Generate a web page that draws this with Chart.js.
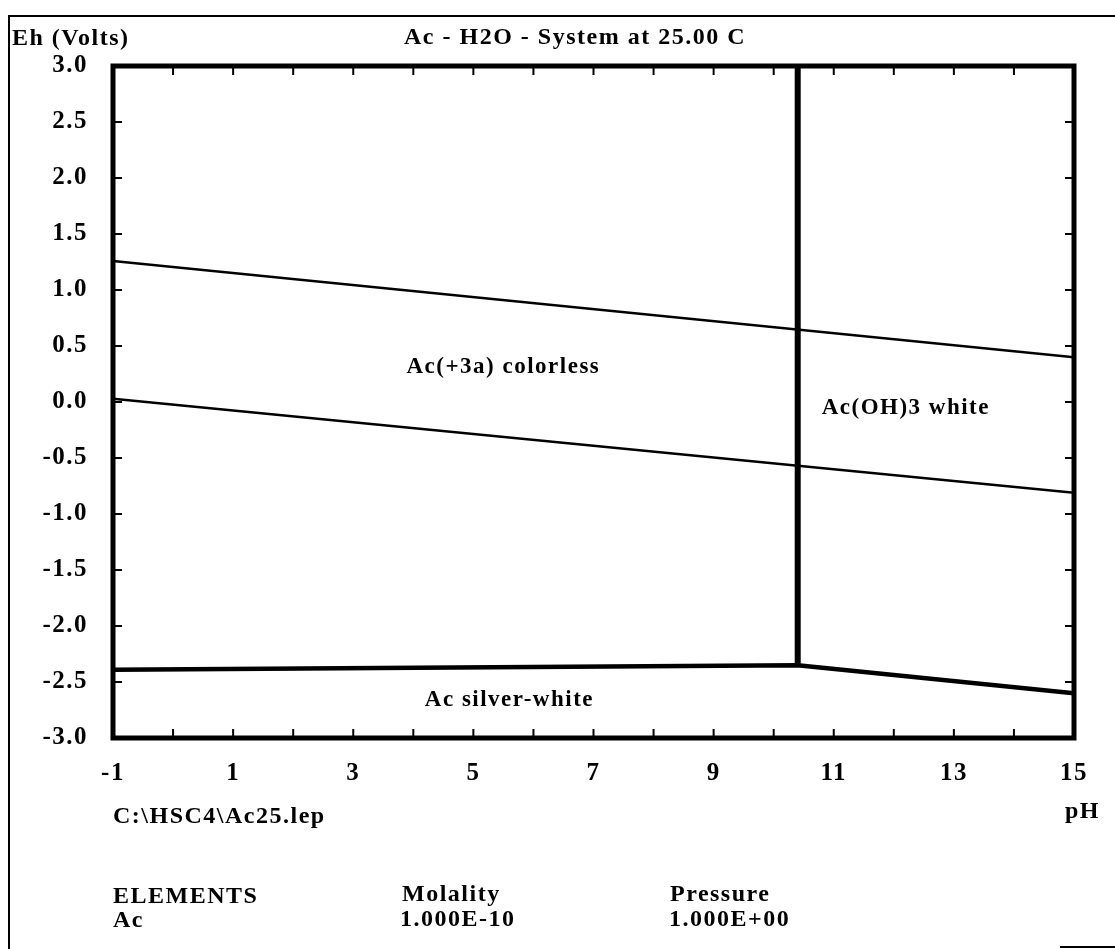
<!DOCTYPE html>
<html lang="en"><head>
<title>Ac - H2O Eh-pH</title>
<meta name="viewport" content="width=device-width, initial-scale=1.0">
<meta charset="utf-8">
<style type="text/css">
body    { margin:0; background-color:#ffffff; }
#display { position:relative; width:1115px; height:949px; }
</style>
<script src="https://cdn.jsdelivr.net/npm/chart.js"></script>
<script>

// axis labels
const pHTicks=[-1,1,3,5,7,9,11,13,15];
const ehTicks=[3.0,2.5,2.0,1.5,1.0,0.5,0.0,-0.5,-1.0,-1.5,-2.0,-2.5,-3.0];

// stability boundaries (pH, Eh in volts)
const upperWaterPH=[-1,15];      const upperWaterEh=[1.26,0.40];
const lowerWaterPH=[-1,15];      const lowerWaterEh=[0.03,-0.81];
const hydroxidePH=[10.4,10.4];   const hydroxideEh=[3.0,-2.35];
const metalPH=[-1,10.4,15];      const metalEh=[-2.39,-2.35,-2.60];

// predominance fields
const regionNames=['Ac(+3a) colorless','Ac(OH)3 white','Ac silver-white'];
const regionPH=[5.5,12.2,5.6];
const regionEh=[0.31,-0.05,-2.66];

const serif="'Liberation Serif','Times New Roman',serif";

function pts(xs,ys) { return xs.map(function(x,i) { return {x:x,y:ys[i]}; }); }

function line(xs,ys,w) {
  return {data:pts(xs,ys),showLine:true,borderColor:'#000',backgroundColor:'#000',
    borderWidth:w,pointRadius:0,tension:0,borderCapStyle:'butt'}; }

// wide lettering, like the old plotter font
const spacingPlugin={id:'spacing',beforeInit:function(chart) { chart.ctx.letterSpacing='1.5px'; },
  beforeDraw:function(chart) { chart.ctx.letterSpacing='1.5px'; }};

const framePlugin={id:'frame',afterDatasetsDraw:function(chart) {
  const c=chart.ctx, a=chart.chartArea, sx=chart.scales.x, sy=chart.scales.y;
  c.save();
  c.strokeStyle='#000'; c.fillStyle='#000';
  // minor ticks pointing inwards
  c.lineWidth=2; c.beginPath();
  for (let v=0;v<15;v++) { const px=sx.getPixelForValue(v);
    c.moveTo(px,a.bottom); c.lineTo(px,a.bottom-9);
    c.moveTo(px,a.top); c.lineTo(px,a.top+9); }
  for (let v=-2.5;v<3;v+=0.5) { const py=sy.getPixelForValue(v);
    c.moveTo(a.left,py); c.lineTo(a.left+9,py);
    c.moveTo(a.right,py); c.lineTo(a.right-9,py); }
  c.stroke();
  // plot border
  c.lineWidth=5; c.strokeRect(a.left,a.top,a.right-a.left,a.bottom-a.top);
  // outer page frame
  c.lineWidth=2; c.beginPath();
  c.moveTo(9,949); c.lineTo(9,16); c.lineTo(1115,16);
  c.moveTo(1060,947); c.lineTo(1115,947); c.stroke();
  // field names
  c.font='bold 23px '+serif; c.textAlign='center'; c.textBaseline='middle';
  regionNames.forEach(function(n,i) {
    c.fillText(n,sx.getPixelForValue(regionPH[i]),sy.getPixelForValue(regionEh[i])); });
  // header and footer
  c.font='bold 24px '+serif;
  c.textAlign='left'; c.fillText('Eh (Volts)',12,39);
  c.textAlign='center'; c.fillText('Ac - H2O - System at 25.00 C',575,38);
  c.textAlign='left'; c.fillText('C:\\HSC4\\Ac25.lep',113,817);
  c.textAlign='right'; c.fillText('pH',1100,812);
  c.textAlign='left';
  c.fillText('ELEMENTS',113,897); c.fillText('Ac',113,921);
  c.fillText('Molality',402,895); c.fillText('1.000E-10',400,920);
  c.fillText('Pressure',670,895); c.fillText('1.000E+00',669,920);
  c.restore(); }};

function initChart() {
  const tickFont={family:serif,weight:'bold',size:25};
  new Chart(document.getElementById('ehChart'),{type:'scatter',
    data:{datasets:[
      line(upperWaterPH,upperWaterEh,2.5),
      line(lowerWaterPH,lowerWaterEh,2.5),
      line(metalPH,metalEh,4.5),
      line(hydroxidePH,hydroxideEh,6)]},
    options:{responsive:true,maintainAspectRatio:false,animation:false,
      layout:{padding:{left:0,top:66,right:41,bottom:0}},
      plugins:{legend:{display:false},tooltip:{enabled:false}},
      scales:{
        x:{type:'linear',min:-1,max:15,
          afterBuildTicks:function(s){ s.ticks=pHTicks.map(function(v){return {value:v};}); },
          afterFit:function(s){ s.height=211; },
          grid:{display:false},border:{display:false},
          ticks:{color:'#000',font:tickFont,padding:13,autoSkip:false,maxRotation:0}},
        y:{type:'linear',min:-3,max:3,
          afterBuildTicks:function(s){ s.ticks=ehTicks.map(function(v){return {value:v};}); },
          afterFit:function(s){ s.width=113; },
          grid:{display:false},border:{display:false},
          ticks:{color:'#000',font:tickFont,padding:17,autoSkip:false,
            callback:function(v){ return v.toFixed(1); }}}}},
    plugins:[spacingPlugin,framePlugin]}); }

</script></head>
<body onload="initChart();">
<div id="display">
  <canvas id="ehChart"></canvas>
</div>
</body></html>
